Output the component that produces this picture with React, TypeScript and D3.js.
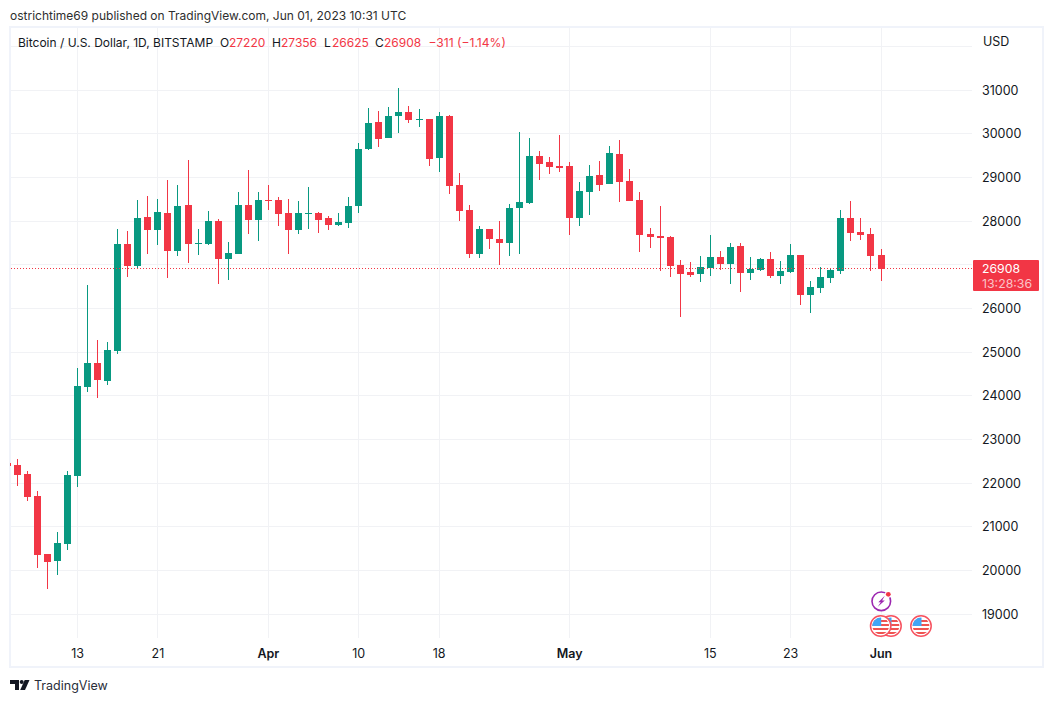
import React, { useEffect, useRef } from "react";
import * as d3 from "d3";

const UP = "#089981";
const DOWN = "#F23645";
const FONT = "Inter, 'Noto Sans', sans-serif";

// first candle in the window is Mar 6 (only a sliver of it is visible)
const startDay = "2023-03-06";

const opens = [
  22470, 22420, 22210, 21710, 20380, 20220, 20610, 22160, 24200, 24750, 24340, 25030, 27480, 26970, 28090, 27800, 28180,
  27320, 28370, 27470, 27480, 28000, 27130, 27250, 28370, 28020, 28480, 28480, 28180, 27800, 28160, 28180, 28070, 27910,
  27960, 28350, 29650, 30270, 29900, 30400, 30500, 30310, 30340, 29440, 30400, 28820, 28250, 27250, 27820, 27590, 27500,
  28300, 28410, 29490, 29350, 29260, 29260, 28070, 28670, 29050, 28850, 29540, 28920, 28480, 27700, 27660, 27640, 26990,
  26830, 26790, 26930, 27180, 27020, 27430, 26810, 26880, 27130, 26740, 26830, 27220, 26310, 26470, 26700, 26860, 28070,
  27750, 27700, 27220,
];
const highs = [
  22560, 22550, 22280, 21820, 20380, 20880, 22280, 24640, 26540, 25280, 25230, 27820, 27770, 28480, 28570, 28510, 28940,
  28830, 29400, 27820, 28230, 28050, 27520, 28660, 29170, 28660, 28830, 28550, 28500, 28460, 28780, 28210, 28120, 28180,
  28550, 29790, 30590, 30520, 30610, 31050, 30630, 30570, 30340, 30500, 30430, 29100, 28370, 27890, 27820, 28000, 28390,
  30040, 29900, 29600, 29470, 29970, 29350, 28890, 29280, 29380, 29720, 29860, 29190, 28670, 27840, 28350, 27660, 27110,
  27060, 27200, 27680, 27320, 27500, 27500, 27180, 27150, 27290, 27090, 27480, 27220, 26630, 26950, 26900, 28250, 28460,
  28070, 27840, 27356,
];
const lows = [
  22300, 21940, 21590, 20060, 19580, 19900, 20470, 21910, 24090, 23950, 24250, 24960, 26720, 26900, 27250, 27450, 26700,
  27200, 27040, 27220, 27450, 26560, 26650, 27240, 27700, 27540, 28250, 27890, 27250, 27700, 27820, 27730, 27800, 27890,
  27840, 28180, 29630, 29700, 29890, 30020, 30250, 30150, 29260, 29120, 28620, 28000, 27150, 27150, 27360, 26990, 27200,
  27250, 28390, 28940, 29080, 29120, 27680, 27890, 28140, 28690, 28840, 28440, 28450, 27290, 27380, 26860, 26720, 25800,
  26720, 26600, 26740, 26880, 26560, 26380, 26650, 26860, 26700, 26560, 26810, 26080, 25900, 26350, 26580, 26790, 27540,
  27570, 26860, 26625,
];
const closes = [
  22400, 22190, 21680, 20360, 20200, 20630, 22190, 24220, 24750, 24360, 25050, 27480, 26970, 28070, 27800, 28210, 27320,
  28340, 27480, 27500, 28000, 27130, 27270, 28370, 28020, 28480, 28460, 28160, 27800, 28180, 28180, 28020, 27910, 27980,
  28350, 29650, 30250, 29880, 30400, 30500, 30310, 30340, 29420, 30400, 28800, 28230, 27250, 27820, 27590, 27500, 28300,
  28440, 29490, 29310, 29240, 29220, 28070, 28690, 29030, 28830, 29560, 28890, 28460, 27680, 27640, 27610, 26970, 26790,
  26770, 26950, 27180, 27020, 27410, 26810, 26900, 27130, 26740, 26860, 27220, 26310, 26490, 26720, 26880, 28070, 27730,
  27680, 27200, 26908,
];

const priceTicks = [19000, 20000, 21000, 22000, 23000, 24000, 25000, 26000, 27000, 28000, 29000, 30000, 31000, 32000];
// 27000 sits under the last price tag, 32000 is off the axis labels
const priceLabels = [19000, 20000, 21000, 22000, 23000, 24000, 25000, 26000, 28000, 29000, 30000, 31000];
const timeTicks = [
  { day: "2023-03-13", label: "13", bold: false },
  { day: "2023-03-21", label: "21", bold: false },
  { day: "2023-04-01", label: "Apr", bold: true },
  { day: "2023-04-10", label: "10", bold: false },
  { day: "2023-04-18", label: "18", bold: false },
  { day: "2023-05-01", label: "May", bold: true },
  { day: "2023-05-15", label: "15", bold: false },
  { day: "2023-05-23", label: "23", bold: false },
  { day: "2023-06-01", label: "Jun", bold: true },
];
const lastPrice = 26908;
const countdown = "13:28:36";
const publishedLine = "ostrichtime69 published on TradingView.com, Jun 01, 2023 10:31 UTC";
const symbolTitle = "Bitcoin / U.S. Dollar, 1D, BITSTAMP";
const ohlcLegend = [
  { key: "O", value: "27220", keyX: 220, valueX: 229 },
  { key: "H", value: "27356", keyX: 272, valueX: 281 },
  { key: "L", value: "26625", keyX: 324, valueX: 332 },
  { key: "C", value: "26908", keyX: 375, valueX: 384 },
];
const changeText = "\u2212311 (\u22121.14%)";

const day = d3.utcParse("%Y-%m-%d");

const App: React.FC = () => {
  const svgRef = useRef<SVGSVGElement | null>(null);

  useEffect(() => {
    d3.select(svgRef.current).selectAll("*").remove();
    const svg = d3.select(svgRef.current);

    const plot = { left: 10, right: 1042, top: 28, bottom: 666, paneRight: 972, paneBottom: 638 };

    const xScale = d3
      .scaleUtc()
      .domain([day("2023-03-07")!, day("2023-06-01")!])
      .range([17.3, 881]);
    const yScale = d3.scaleLinear().domain([19000, 31000]).range([614.3, 90]);
    const dates = opens.map((_, i) => d3.utcDay.offset(day(startDay)!, i));

    svg.append("rect").attr("width", 1053).attr("height", 702).attr("fill", "#fff");

    // frame
    svg
      .append("rect")
      .attr("x", 10)
      .attr("y", 27)
      .attr("width", 1033)
      .attr("height", 640)
      .attr("fill", "none")
      .attr("stroke", "#f0f3fa")
      .attr("stroke-width", 2);

    svg
      .append("defs")
      .append("clipPath")
      .attr("id", "pane")
      .append("rect")
      .attr("x", plot.left)
      .attr("y", plot.top)
      .attr("width", plot.paneRight - plot.left)
      .attr("height", plot.paneBottom - plot.top);

    // grid
    const grid = svg.append("g").attr("stroke", "#f1f2f5").attr("stroke-width", 1).attr("shape-rendering", "crispEdges");
    grid
      .selectAll(".h")
      .data(priceTicks)
      .enter()
      .append("line")
      .attr("x1", plot.left + 1)
      .attr("x2", plot.paneRight)
      .attr("y1", (d) => yScale(d))
      .attr("y2", (d) => yScale(d));
    grid
      .selectAll(".v")
      .data(timeTicks)
      .enter()
      .append("line")
      .attr("x1", (d) => xScale(day(d.day)!))
      .attr("x2", (d) => xScale(day(d.day)!))
      .attr("y1", plot.top)
      .attr("y2", plot.paneBottom);

    // candles
    const candles = svg.append("g").attr("clip-path", "url(#pane)").attr("shape-rendering", "crispEdges");
    const bodyWidth = 7;
    const color = (i: number) => (closes[i] >= opens[i] ? UP : DOWN);
    candles
      .selectAll(".wick")
      .data(dates)
      .enter()
      .append("line")
      .attr("x1", (d) => xScale(d))
      .attr("x2", (d) => xScale(d))
      .attr("y1", (_, i) => yScale(highs[i]))
      .attr("y2", (_, i) => yScale(lows[i]))
      .attr("stroke", (_, i) => color(i))
      .attr("stroke-width", 1);
    candles
      .selectAll(".body")
      .data(dates)
      .enter()
      .append("rect")
      .attr("x", (d) => xScale(d) - bodyWidth / 2)
      .attr("width", bodyWidth)
      .attr("y", (_, i) => yScale(Math.max(opens[i], closes[i])))
      .attr("height", (_, i) => Math.max(1, Math.abs(yScale(opens[i]) - yScale(closes[i]))))
      .attr("fill", (_, i) => color(i));

    // last price line
    svg
      .append("line")
      .attr("x1", plot.left + 1)
      .attr("x2", plot.paneRight)
      .attr("y1", yScale(lastPrice))
      .attr("y2", yScale(lastPrice))
      .attr("stroke", DOWN)
      .attr("stroke-width", 1)
      .attr("stroke-dasharray", "1 2")
      .attr("shape-rendering", "crispEdges");

    const label = (x: number, y: number, s: string, fill = "#131722", size = 12.5, weight = 400) =>
      svg
        .append("text")
        .attr("x", x)
        .attr("y", y)
        .attr("font-family", FONT)
        .attr("font-size", size)
        .attr("font-weight", weight)
        .attr("fill", fill)
        .text(s);

    // price axis
    priceLabels.forEach((p) => label(982, yScale(p) + 4.5, String(p)));
    label(983, 45.5, "USD");

    // time axis
    timeTicks.forEach((t) => {
      label(xScale(day(t.day)!), 658, t.label, "#131722", 12.5, t.bold ? 600 : 400).attr("text-anchor", "middle");
    });

    // last price tag
    svg
      .append("rect")
      .attr("x", 973)
      .attr("y", 260)
      .attr("width", 66)
      .attr("height", 31)
      .attr("rx", 1)
      .attr("fill", DOWN);
    label(982, 272.5, String(lastPrice), "#fff", 12.3);
    label(982, 287.5, countdown, "#fbc3c8", 12.3);

    // header, legend
    label(10, 19.5, publishedLine, "#2e2e2e", 12);
    label(18, 47, symbolTitle, "#131722", 12);
    ohlcLegend.forEach((o) => {
      label(o.keyX, 47, o.key, "#131722", 12);
      label(o.valueX, 47, o.value, DOWN, 12);
    });
    label(428.5, 47, changeText, DOWN, 12.1);

    // events
    const lightning = svg.append("g").attr("transform", "translate(881.3,601.3)");
    lightning.append("circle").attr("r", 9.3).attr("fill", "#fff").attr("stroke", "#9c27b0").attr("stroke-width", 1.6);
    lightning.append("path").attr("d", "M3.5 -5.5 L-3 1 L-0.5 1 L-3.5 5.5 L3.5 -0.8 L0.8 -0.8 Z").attr("fill", "#9c27b0");
    lightning.append("circle").attr("cx", 7).attr("cy", -7).attr("r", 3.4).attr("fill", "#fff");
    lightning.append("circle").attr("cx", 7).attr("cy", -7).attr("r", 2.4).attr("fill", DOWN);

    const flagDefs = svg.append("defs").append("clipPath").attr("id", "flagClip");
    flagDefs.append("circle").attr("r", 8.4);
    [891, 880.7, 921].forEach((cx) => {
      const g = svg.append("g").attr("transform", `translate(${cx},626)`);
      g.append("circle").attr("r", 10.2).attr("fill", "#fff").attr("stroke", "#f7525f").attr("stroke-width", 1.5);
      const inner = g.append("g").attr("clip-path", "url(#flagClip)");
      inner.append("rect").attr("x", -9).attr("y", -9).attr("width", 18).attr("height", 18).attr("fill", "#fff");
      [-6, -2, 2, 6].forEach((sy) => {
        inner.append("rect").attr("x", -9).attr("y", sy).attr("width", 18).attr("height", 2).attr("fill", "#ef5350");
      });
      inner.append("rect").attr("x", -9).attr("y", -9).attr("width", 9.5).attr("height", 9).attr("fill", "#42a5f5");
    });

    // footer logo
    const logo = svg.append("g").attr("fill", "#131722");
    logo.append("path").attr("d", "M10 680h9v10h-4v-6h-5z");
    logo.append("circle").attr("cx", 21.7).attr("cy", 682).attr("r", 2);
    logo.append("path").attr("d", "M29.5 680 L25 690 h-4.8 l4.5 -10z");
    label(34, 690, "TradingView", "#2a2e39", 12.5);
  }, []);

  return <svg ref={svgRef} width={1053} height={702} style={{ position: "absolute", left: 0, top: 0 }}></svg>;
};

export default App;
